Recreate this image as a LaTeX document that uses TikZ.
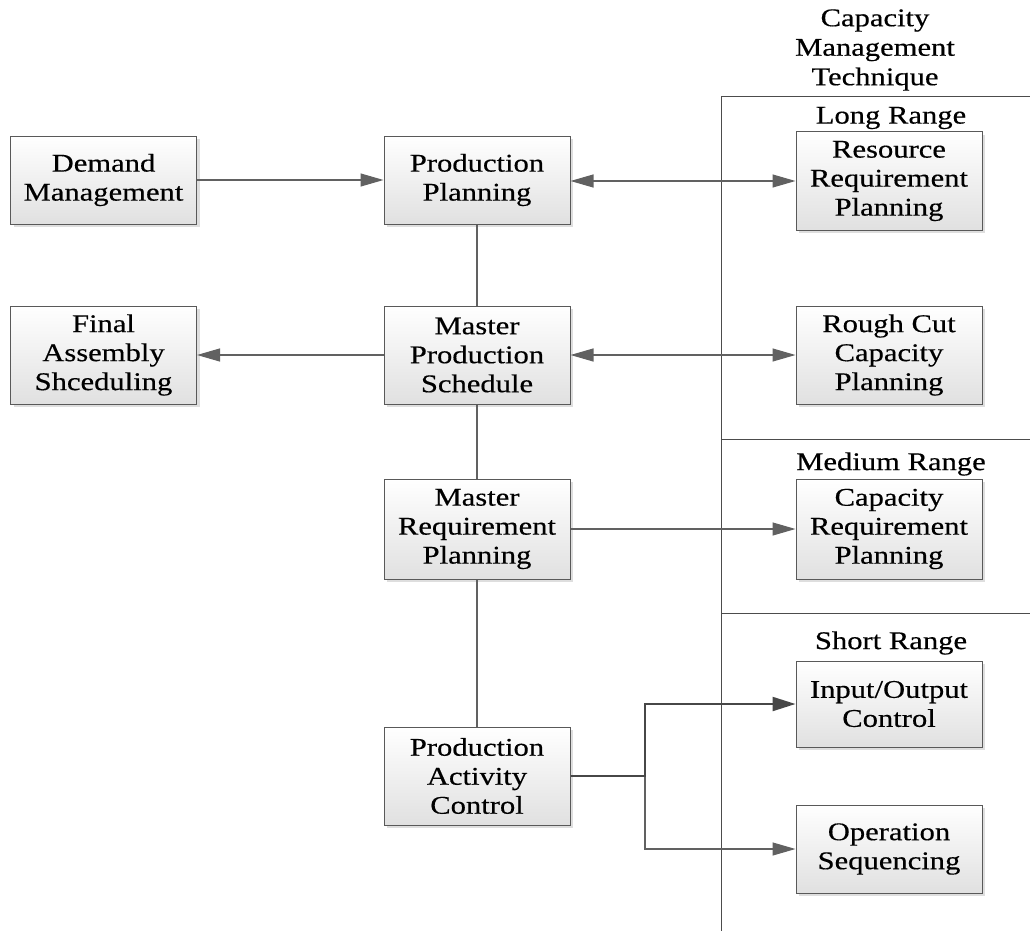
\documentclass[tikz,border=0pt]{standalone}
\usepackage{fontspec}
\setmainfont{Liberation Serif}[FakeStretch=1.2,FakeBold=0.4]
\usetikzlibrary{arrows.meta,shadows}
\begin{document}
\begin{tikzpicture}[x=1pt,y=-1pt,
  box/.style={draw=black!65,line width=1pt,top color=white,bottom color=black!12,
    minimum width=186pt,inner sep=0pt,align=center,
    font=\fontsize{25.5pt}{29pt}\selectfont,
    drop shadow={shadow xshift=3pt,shadow yshift=-3pt,fill=black!25,opacity=0.5}},
  lbl/.style={align=center,inner sep=0pt,font=\fontsize{25.5pt}{29.5pt}\selectfont},
  conn/.style={draw=black!62,line width=1.1pt},
  tip/.tip={Triangle[length=23pt 0,width=13pt 0]},
  arr/.style={conn,-tip},
  darr/.style={conn,tip-tip},
  sep/.style={draw=black!70,line width=1pt}]
\useasboundingbox (0,0) rectangle (1030,931);
\fill[white] (0,0) rectangle (1030,931);
% separators
\draw[sep] (721,97) -- (721,931);
\draw[sep] (721,97) -- (1030,97);
\draw[sep] (721,439) -- (1030,439);
\draw[sep] (721,613) -- (1030,613);
% labels
\node[lbl] (cmt) at (875,50) {Capacity\\Management\\Technique};
\node[lbl] (long) at (891,118) {Long Range};
\node[lbl] (med) at (891,464) {Medium Range};
\node[lbl] (short) at (891,643) {Short Range};
% boxes
\node[box,minimum height=88pt] (dm) at (103.5,180) {Demand\\Management};
\node[box,minimum height=88pt] (pp) at (477,180) {Production\\Planning};
\node[box,minimum height=98pt] (fas) at (103.5,355) {Final\\Assembly\\Shceduling};
\node[box,minimum height=98pt] (mps) at (477,355) {Master\\Production\\Schedule};
\node[box,minimum height=100pt] (mrp) at (477,529) {Master\\Requirement\\Planning};
\node[box,minimum height=98pt] (pac) at (477,776) {Production\\Activity\\Control};
\node[box,minimum height=98pt] (rrp) at (889,181) {Resource\\Requirement\\Planning};
\node[box,minimum height=98pt] (rccp) at (889,355) {Rough Cut\\Capacity\\Planning};
\node[box,minimum height=100pt] (crp) at (889,529) {Capacity\\Requirement\\Planning};
\node[box,minimum height=86pt] (io) at (889,704) {Input/Output\\Control};
\node[box,minimum height=88pt] (os) at (889,849) {Operation\\Sequencing};
% connectors
\draw[arr] (dm.east) -- (dm.east -| pp.west);
\draw[darr] (pp.east |- rrp.west) -- (rrp.west);
\draw[arr] (mps.west) -- (fas.east);
\draw[darr] (mps.east) -- (rccp.west);
\draw[arr] (mrp.east) -- (crp.west);
\draw[conn] (pp.south) -- (mps.north);
\draw[conn] (mps.south) -- (mrp.north);
\draw[conn] (mrp.south) -- (pac.north);
\coordinate (br) at (645,776);
\draw[arr] (br) |- (os.west);
\draw[conn,line width=2.2pt,draw=black!72,-{Triangle[length=23pt 0,width=14pt 0]}] (pac.east) -- (br) |- (io.west);
\end{tikzpicture}
\end{document}
